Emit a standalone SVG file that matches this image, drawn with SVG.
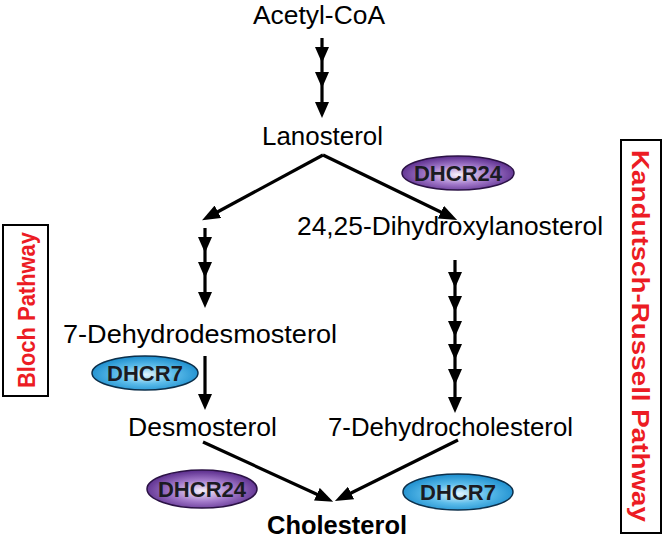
<svg xmlns="http://www.w3.org/2000/svg" width="670" height="539" viewBox="0 0 670 539">
<defs>
<style>
.t{font-family:"Liberation Sans",Arial,sans-serif;font-size:26px;fill:#000}
.b{font-weight:bold}
.enz{font-family:"Liberation Sans",Arial,sans-serif;font-size:22px;font-weight:bold;fill:#1b1b22;text-anchor:middle}
.red{font-family:"Liberation Sans",Arial,sans-serif;font-size:24px;font-weight:bold;fill:#ec1c24;text-anchor:middle}
.ln{stroke:#000;stroke-width:3.2;fill:none}
.box{fill:#fff;stroke:#000;stroke-width:2}
</style>
<radialGradient id="gP" cx="50%" cy="55%" r="55%">
<stop offset="0" stop-color="#f6f1fa"/>
<stop offset="0.5" stop-color="#a57ccc"/>
<stop offset="1" stop-color="#582a8a"/>
</radialGradient>
<radialGradient id="gB" cx="50%" cy="55%" r="55%">
<stop offset="0" stop-color="#e6f6fd"/>
<stop offset="0.5" stop-color="#5cbcea"/>
<stop offset="1" stop-color="#1a8ccd"/>
</radialGradient>
<path id="hd" d="M0,0 L-7,-16 L7,-16 Z" fill="#000"/>
<marker id="ah" viewBox="0 0 18 14" refX="9" refY="7" markerWidth="18" markerHeight="14" markerUnits="userSpaceOnUse" orient="auto">
<path d="M0,0 L18,7 L0,14 Z" fill="#000"/>
</marker>
</defs>

<g id="connectors">
<line class="ln" x1="322" y1="38" x2="322" y2="108"/>
<use href="#hd" x="322" y="63"/><use href="#hd" x="322" y="88"/><use href="#hd" x="322" y="118"/>
<line class="ln" x1="323" y1="155" x2="210" y2="216" marker-end="url(#ah)"/>
<line class="ln" x1="323" y1="155" x2="449" y2="216" marker-end="url(#ah)"/>
<line class="ln" x1="205" y1="228" x2="205" y2="298"/>
<use href="#hd" x="205" y="253"/><use href="#hd" x="205" y="278"/><use href="#hd" x="205" y="308"/>
<line class="ln" x1="455" y1="260" x2="455" y2="403"/>
<use href="#hd" x="455" y="288"/><use href="#hd" x="455" y="312"/><use href="#hd" x="455" y="337"/><use href="#hd" x="455" y="360"/><use href="#hd" x="455" y="385"/><use href="#hd" x="455" y="413"/>
<line class="ln" x1="205" y1="356" x2="205" y2="398"/>
<use href="#hd" x="205" y="410"/>
<line class="ln" x1="203" y1="442" x2="325" y2="498" marker-end="url(#ah)"/>
<line class="ln" x1="458" y1="440" x2="343" y2="497" marker-end="url(#ah)"/>
</g>

<g id="acetylcoa"><text class="t" x="253" y="24" textLength="132" lengthAdjust="spacingAndGlyphs">Acetyl-CoA</text></g>
<g id="lanosterol"><text class="t" x="262" y="145" textLength="121" lengthAdjust="spacingAndGlyphs">Lanosterol</text></g>
<g id="dhcr24-top"><ellipse cx="458" cy="173" rx="56" ry="17" fill="url(#gP)" stroke="#2b1245" stroke-width="1.5"/><text class="enz" x="458" y="181">DHCR24</text></g>
<g id="dihydroxylanosterol"><text class="t" x="297" y="235" textLength="306" lengthAdjust="spacingAndGlyphs">24,25-Dihydroxylanosterol</text></g>
<g id="dehydrodesmosterol"><text class="t" x="63" y="343" textLength="274" lengthAdjust="spacingAndGlyphs">7-Dehydrodesmosterol</text></g>
<g id="dhcr7-left"><ellipse cx="145" cy="373" rx="53" ry="17" fill="url(#gB)" stroke="#0c2f4a" stroke-width="1.5"/><text class="enz" x="145" y="381">DHCR7</text></g>
<g id="desmosterol"><text class="t" x="128" y="436" textLength="149" lengthAdjust="spacingAndGlyphs">Desmosterol</text></g>
<g id="dehydrocholesterol"><text class="t" x="328" y="436" textLength="245" lengthAdjust="spacingAndGlyphs">7-Dehydrocholesterol</text></g>
<g id="dhcr24-bottom"><ellipse cx="202" cy="489" rx="55" ry="19" fill="url(#gP)" stroke="#2b1245" stroke-width="1.5"/><text class="enz" x="202" y="497">DHCR24</text></g>
<g id="dhcr7-right"><ellipse cx="458" cy="492" rx="55" ry="18" fill="url(#gB)" stroke="#0c2f4a" stroke-width="1.5"/><text class="enz" x="458" y="500">DHCR7</text></g>
<g id="cholesterol"><text class="t b" x="267" y="534" textLength="140" lengthAdjust="spacingAndGlyphs">Cholesterol</text></g>
<g id="bloch"><rect class="box" x="3" y="225" width="45" height="171"/><text class="red" transform="translate(35,310) rotate(-90)" textLength="156" lengthAdjust="spacingAndGlyphs">Bloch Pathway</text></g>
<g id="kandutsch"><rect class="box" x="621" y="140" width="40" height="393"/><text class="red" transform="translate(632,336) rotate(90)" textLength="372" lengthAdjust="spacingAndGlyphs">Kandutsch-Russell Pathway</text></g>
</svg>
